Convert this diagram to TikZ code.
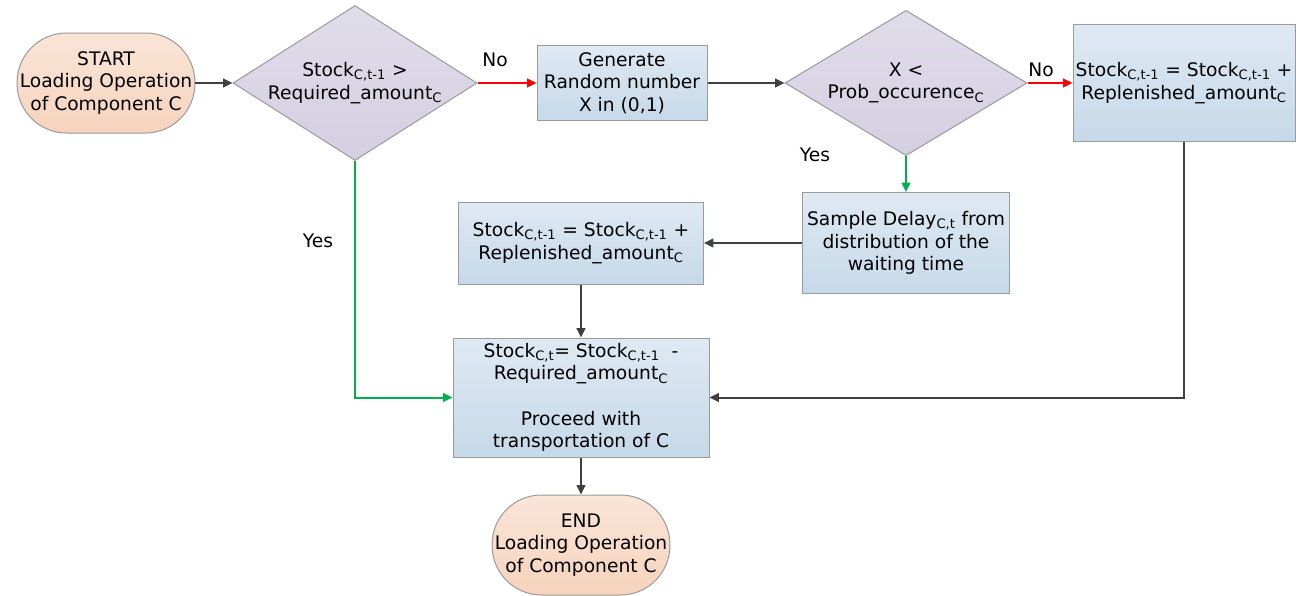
\documentclass[tikz,border=0pt]{standalone}
\usepackage{fontspec}
\setmainfont{DejaVu Sans}
\usetikzlibrary{shapes.geometric,arrows.meta,positioning}
\definecolor{edgegray}{HTML}{9A9A9A}
\definecolor{linkgray}{HTML}{404040}
\definecolor{nored}{HTML}{FF0000}
\definecolor{yesgreen}{HTML}{00B050}
\definecolor{boxtop}{HTML}{DFE9F3}
\definecolor{boxbottom}{HTML}{C6D9E9}
\definecolor{decidetop}{HTML}{E0DDEA}
\definecolor{decidebottom}{HTML}{D4CFE1}
\definecolor{termtop}{HTML}{FAE5D7}
\definecolor{termbottom}{HTML}{F6D3BD}
\tikzset{
  flow/.style={font=\fontsize{14}{17}\selectfont, align=center, draw=edgegray,
               line width=0.75pt, inner sep=2pt},
  procbox/.style={flow, rectangle, top color=boxtop, bottom color=boxbottom},
  termbox/.style={flow, rectangle, rounded corners=37pt, top color=termtop,
                  bottom color=termbottom, minimum width=132.75pt, minimum height=75pt},
  decide/.style={flow, diamond, aspect=1.57, inner sep=-2pt, top color=decidetop,
                 bottom color=decidebottom, minimum width=183pt, minimum height=116.25pt},
  link/.style={-{Triangle[length=7pt,width=6.5pt]}, line width=1.5pt, draw=linkgray},
  nolink/.style={link, draw=nored},
  yeslink/.style={link, draw=yesgreen},
  answer/.style={font=\fontsize{14}{17}\selectfont, inner sep=0pt},
}

\begin{document}
\begin{tikzpicture}[x=0.75pt, y=-0.75pt]
    \useasboundingbox (0,0) rectangle (1296,596);
    \node[termbox] (start) at (106,83) {START\\Loading Operation\\of Component C};
    \node[decide] (stockok) at (355,83) {Stock\textsubscript{C,t-1} >\\Required\_amount\textsubscript{C}};
    \node[procbox, minimum width=127.5pt, minimum height=56.25pt] (rand) at (622,83) {Generate\\Random number\\X in (0,1)};
    \node[decide, minimum width=181.5pt, minimum height=109pt] (occur) at (906,83) {X <\\Prob\_occurence\textsubscript{C}};
    \node[procbox, minimum width=166.5pt, minimum height=87.75pt] (refillr) at (1184,83) {Stock\textsubscript{C,t-1} = Stock\textsubscript{C,t-1} +\\Replenished\_amount\textsubscript{C}};
    \node[procbox, minimum width=155.25pt, minimum height=75.75pt] (delay) at (906,243) {Sample Delay\textsubscript{C,t} from\\distribution of the\\waiting time};
    \node[procbox, minimum width=183.75pt, minimum height=61.5pt] (refilll) at (581,243) {Stock\textsubscript{C,t-1} = Stock\textsubscript{C,t-1} +\\Replenished\_amount\textsubscript{C}};
    \node[procbox, minimum width=192pt, minimum height=89.25pt] (consume) at (581,397.5) {Stock\textsubscript{C,t}= Stock\textsubscript{C,t-1}\ \ -\\Required\_amount\textsubscript{C}\\[17pt]Proceed with\\transportation of C};
    \node[termbox] (finish) at (581,545) {END\\Loading Operation\\of Component C};
    \node[answer] (no1) at (495,60) {No};
    \node[answer] (no2) at (1041,70) {No};
    \node[answer] (yes1) at (815,155) {Yes};
    \node[answer] (yes2) at (318,241) {Yes};
    \draw[link] (start) -- (stockok);
    \draw[nolink] (stockok) -- (rand);
    \draw[link] (rand) -- (occur);
    \draw[nolink] (occur) -- (refillr);
    \draw[yeslink] (occur) -- (delay);
    \draw[link] (delay) -- (refilll);
    \draw[link] (refilll) -- (consume);
    \draw[yeslink] (stockok.south) |- (consume.west);
    \draw[link] (refillr.south) |- (consume.east);
    \draw[link] (consume) -- (finish);
\end{tikzpicture}
\end{document}
